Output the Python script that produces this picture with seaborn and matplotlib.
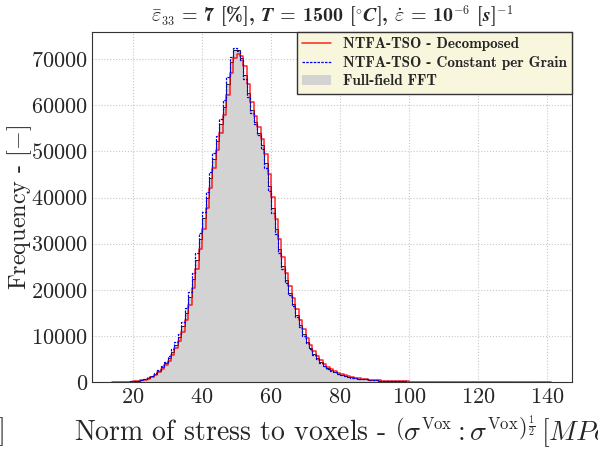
import numpy as np
import pandas as pd
import matplotlib
matplotlib.use("Agg")
import matplotlib.pyplot as plt
import seaborn as sns
from matplotlib import _mathtext
from matplotlib.lines import Line2D
from matplotlib.patches import Patch

# -----------------------------
# DATA (1 MPa wide bins starting at 14 MPa)
# -----------------------------
bin_start = 14
bin_width = 1

fft_counts = [
    1, 3, 8, 20, 45, 90,
    160, 270, 420, 620, 900, 1250, 1750, 2400, 3200, 4100,
    5200, 6600, 8100, 9800, 12100, 15000, 18400, 22300, 26500, 31000,
    35500, 40000, 44300, 48400, 52300, 55900, 59700, 64600, 69500, 72100,
    71900, 70300, 66600, 62600, 59000, 56400, 54100, 51400, 47500, 42500,
    37800, 33100, 28800, 25200, 22100, 19400, 16900, 14600, 12400, 10400,
    8700, 7300, 6100, 5100, 4250, 3550, 2980, 2520, 2140, 1830,
    1570, 1350, 1160, 1000, 865, 750, 650, 565, 490, 425,
    370, 322, 280, 244, 212, 185, 161, 140, 122, 106,
    92, 80, 70, 61, 53, 46, 40, 35, 30, 26,
    23, 20, 17, 15, 13, 11, 10, 9, 8, 7,
    6, 5, 5, 4, 4, 3, 3, 3, 2, 2,
    2, 2, 1, 1, 1, 1, 1, 1, 1, 1,
    1,
]

decomposed_counts = [
    0, 2, 5, 14, 32, 68,
    125, 215, 345, 520, 760, 1075, 1500, 2075, 2800, 3650,
    4650, 5900, 7350, 8950, 10950, 13550, 16700, 20350, 24400, 28750,
    33250, 37750, 42150, 46350, 50350, 54100, 57800, 62150, 67000, 70300,
    71200, 70800, 68500, 64600, 60800, 57700, 55250, 52750, 49450, 45000,
    40150, 35450, 30950, 27000, 23650, 20750, 18150, 15750, 13500, 11400,
    9550, 8000, 6700, 5600, 4675, 3900, 3265, 2750, 2330, 1985,
    1700, 1460, 1255, 1080, 932, 808, 700, 608, 528, 458,
    398, 346, 301, 262, 228, 198, 173, 150, 131, 114,
    99, 86, 75, 65, 57, 50, 43, 38, 33, 28,
    25, 21, 18, 16, 14, 12, 11, 10, 9, 8,
    7, 6, 5, 5, 4, 4, 3, 3, 3, 2,
    2, 2, 2, 1, 1, 1, 1, 1, 1, 1,
    1,
]

grain_counts = [
    1, 4, 11, 27, 58, 112,
    195, 315, 480, 700, 1000, 1400, 1950, 2650, 3470, 4430,
    5620, 7050, 8600, 10500, 12950, 16000, 19600, 23600, 27900, 32400,
    36900, 41300, 45500, 49600, 53400, 57000, 61200, 66100, 70400, 72500,
    71700, 69800, 65800, 61800, 58400, 55900, 53500, 50500, 46300, 41400,
    36700, 32200, 28000, 24500, 21500, 18900, 16400, 14100, 12000, 10050,
    8400, 7050, 5900, 4950, 4120, 3450, 2900, 2450, 2080, 1780,
    1530, 1310, 1130, 975, 840, 730, 632, 550, 477, 414,
    360, 313, 272, 237, 206, 180, 157, 136, 119, 103,
    90, 78, 68, 59, 51, 45, 39, 34, 29, 25,
    22, 19, 17, 14, 12, 11, 10, 8, 7, 6,
    6, 5, 4, 4, 3, 3, 3, 2, 2, 2,
    2, 1, 1, 1, 1, 1, 1, 1, 1, 1,
    1,
]

labels = ["NTFA-TSO - Decomposed", "NTFA-TSO - Constant per Grain", "Full-field FFT"]

n_bins = len(fft_counts)
bin_end = bin_start + n_bins * bin_width
df = pd.DataFrame({
    "stress": bin_start + bin_width * (np.arange(n_bins) + 0.5),
    "fft": fft_counts,
    "decomposed": decomposed_counts,
    "grain": grain_counts,
})
hist_kws = dict(data=df, x="stress", binwidth=bin_width, binrange=(bin_start, bin_end),
                element="step")

# -----------------------------
# STYLE
# -----------------------------
sns.set_style("ticks")
plt.rcParams["font.family"] = ["cmr10", "DejaVu Serif"]
plt.rcParams["mathtext.fontset"] = "cm"
plt.rcParams["axes.unicode_minus"] = False
plt.rcParams["axes.formatter.use_mathtext"] = True
# smaller super/subscripts, closer to the LaTeX original
_mathtext.SHRINK_FACTOR = 0.6

fig = plt.figure(figsize=(5.98, 4.57), dpi=100)
ax = fig.add_axes([0.1538, 0.1641, 0.8027, 0.7659])

# -----------------------------
# HISTOGRAMS
# -----------------------------
sns.histplot(weights="fft", fill=True, color="lightgray", alpha=1,
             edgecolor="black", linewidth=0.6, ax=ax, **hist_kws)
sns.histplot(weights="decomposed", fill=False, color="red", alpha=0.85, linewidth=1.1,
             ax=ax, **hist_kws)
sns.histplot(weights="grain", fill=False, color="blue", linewidth=0.9,
             linestyle=(0, (2, 1)), ax=ax, **hist_kws)

ax.set_xlim(8.1, 147.2)
ax.set_ylim(0, 75900)
ax.set_xticks([20, 40, 60, 80, 100, 120, 140])
ax.set_yticks(np.arange(0, 70001, 10000))
ax.tick_params(labelsize=16, length=0, pad=3)
ax.tick_params(axis="x", pad=4)
ax.grid(True, linestyle=":", color="#c8c8c8", linewidth=0.8)
ax.set_axisbelow(True)
for s in ax.spines.values():
    s.set_color("#333333")

ax.set_ylabel(r"Frequency - $[-]$", fontsize=17.4)
ax.yaxis.set_label_coords(-0.12, 0.5)

ax.set_xlabel(r"Norm of stress to voxels - $\left(\sigma^{\mathrm{Vox}}:\sigma^{\mathrm{Vox}}\right)^{\frac{1}{2}}\,[MPa]$",
              fontsize=20)
ax.xaxis.set_label_coords(0.525, -0.088)

ax.set_title(r"$\boldsymbol{\bar{\varepsilon}_{33}}$ = 7 [%], $\boldsymbol{T}$ = 1500 [$^{\circ}\boldsymbol{C}$], "
             r"$\boldsymbol{\dot{\varepsilon}}$ = 10$^{-6}$ [$\boldsymbol{s}$]$^{-1}$",
             fontsize=14.5, fontfamily="cmb10", pad=7)
fig.text(5 / 598, 1 - 432 / 457, "]", fontsize=21, ha="right", va="center")

handles = [
    Line2D([], [], color="red", alpha=0.85, linewidth=1.1),
    Line2D([], [], color="blue", linewidth=0.9, linestyle=(0, (2, 1))),
    Patch(facecolor="lightgray", edgecolor="none"),
]
leg = ax.legend(handles, labels, loc="upper right", borderaxespad=0, fancybox=False,
                framealpha=1, facecolor="#f8f6dc", edgecolor="#333333",
                prop={"family": "cmb10", "size": 10.9}, labelspacing=0.3,
                borderpad=0.35, handlelength=1.9, handletextpad=0.8)

fig.savefig("out.png", dpi=100)
